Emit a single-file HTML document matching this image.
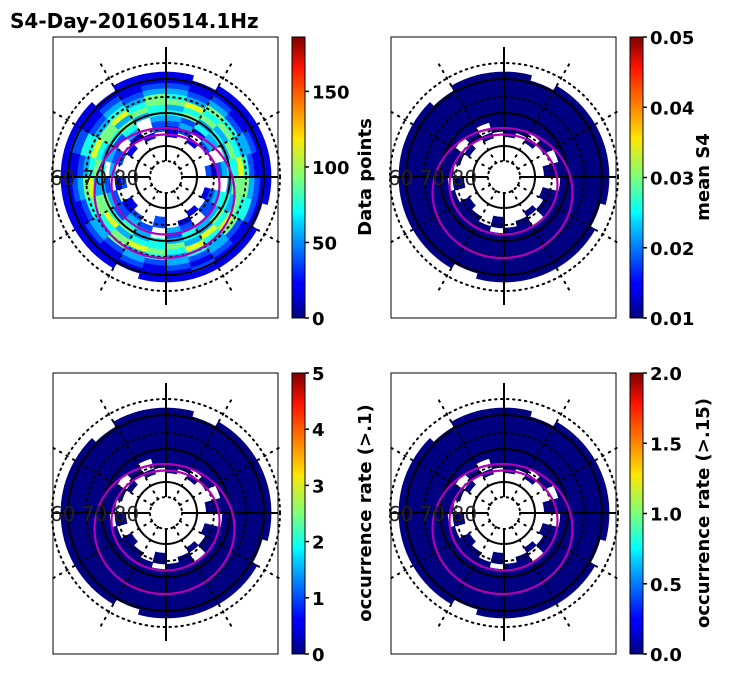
<!DOCTYPE html>
<html><head><meta charset="utf-8"><style>
html,body{margin:0;padding:0;background:#fff;}
svg{display:block;font-family:"DejaVu Sans","Liberation Sans",sans-serif;}
</style></head><body>
<svg id="fig" width="731" height="674" viewBox="0 0 731 674" xmlns="http://www.w3.org/2000/svg">
<defs>
<linearGradient id="jet" x1="0" y1="1" x2="0" y2="0">
<stop offset="0" stop-color="#00007f"/><stop offset="0.11" stop-color="#0000ff"/><stop offset="0.125" stop-color="#0000ff"/>
<stop offset="0.34" stop-color="#00d4ff"/><stop offset="0.375" stop-color="#0ff"/><stop offset="0.5" stop-color="#7dff7a"/>
<stop offset="0.64" stop-color="#ffe500"/><stop offset="0.66" stop-color="#ffd200"/><stop offset="0.89" stop-color="#ff1300"/><stop offset="1" stop-color="#7f0000"/>
</linearGradient>
</defs>
<text x="10" y="28" font-size="20" font-weight="bold">S4-Day-20160514.1Hz</text>
</svg>
<script>
// ring strings: inner -> outer, 24 sectors clockwise from top; '.' = no data, digit = value level 0-9
const ringsP1 = [
"1.1..2.1.1..2..1.2..1.1.",
"12.2.1.22.1.2.21.1.2.1.2",
"2313.2.32.23.2322.32.3.2",
"3243.3.43342.34232.324.3",
"4534343453434354534345344",
"3453545346354436535453543",
"5645465564645654564656456",
"4354345453434353453434353",
"3232323423232323232423232",
"2121212212121212121212121",
"1111111111211111111211111",
"1.11111.11111.1111111.11"
];
const ringsP2 = [
"0.0..0.0.0..0..0.0..0.0.",
"00.0.0.00.0.0.00.0.0.0.0",
"0000.0.00.00.0000.00.0.0",
"000000000000000000000000",
"000000000000000000000000",
"000000000000000000000000",
"000000000000000000000000",
"000000000000000000000000",
"000000000000000000000000",
"000000000000000000000000",
"000000000000000000000000",
"0.00000.00000.0000000.00"
];
const ringsP3 = ringsP2;
const ringsP4 = ringsP2;
const cbTicks1 = ["0","50","100","150"], cbVals1=[0,50,100,150], cbMax1=186;
const cbTicks2 = ["0.01","0.02","0.03","0.04","0.05"], cbVals2=[0.01,0.02,0.03,0.04,0.05];
const cbTicks3 = ["0","1","2","3","4","5"], cbVals3=[0,1,2,3,4,5];
const cbTicks4 = ["0.0","0.5","1.0","1.5","2.0"], cbVals4=[0,0.5,1,1.5,2];

const NS="http://www.w3.org/2000/svg";
const svg=document.getElementById('fig');
function mk(tag,attrs,parent){const e=document.createElementNS(NS,tag);for(const k in attrs)e.setAttribute(k,attrs[k]);(parent||svg).appendChild(e);return e;}
function jet(t){t=Math.max(0,Math.min(1,t));
 const r=Math.max(0,Math.min(1,1.5-Math.abs(4*t-3))),g=Math.max(0,Math.min(1,1.5-Math.abs(4*t-2))),b=Math.max(0,Math.min(1,1.5-Math.abs(4*t-1)));
 return `rgb(${Math.round(r*255)},${Math.round(g*255)},${Math.round(b*255)})`;}
function pt(cx,cy,r,a){const rad=(a-90)*Math.PI/180;return [cx+r*Math.cos(rad),cy+r*Math.sin(rad)];}
function sector(cx,cy,r0,r1,a0,a1){const p1=pt(cx,cy,r1,a0),p2=pt(cx,cy,r1,a1),p3=pt(cx,cy,r0,a1),p4=pt(cx,cy,r0,a0);
 return `M${p1}A${r1},${r1} 0 0 1 ${p2}L${p3}A${r0},${r0} 0 0 0 ${p4}Z`;}

function panel(name,bx,by,rings,cbx,cbTicks,cbVals,cbMin,cbMax,cbLabel){
 const g=mk('g',{});
 
 
 const cx=bx+113,cy=by+140;
 const r0=40,dr=5.4;
 rings.forEach((s,i)=>{for(let j=0;j<24;j++){const c=s[j];if(!c||c==='.')continue;
   const v=+c/9;
   const p=mk('path',{d:sector(cx,cy,r0+i*dr,r0+(i+1)*dr+0.6,j*15-0.4,(j+1)*15+0.4),fill:jet(v*0.89)},g);
   
   
 }});
 [16,48,80,114].forEach(r=>{const c=mk('circle',{cx,cy,r,fill:'none',stroke:'#000','stroke-width':2,'stroke-dasharray':'1.5 4.5','stroke-linecap':'round'},g);
   });
 for(let a=0;a<360;a+=30){if(a%90===0)continue;const p1=pt(cx,cy,16,a),p2=pt(cx,cy,135,a);
   const l=mk('line',{x1:p1[0],y1:p1[1],x2:p2[0],y2:p2[1],stroke:'#000','stroke-width':2,'stroke-dasharray':'1.5 6','stroke-linecap':'round'},g);
   }
 [31,64,98].forEach(r=>{const c=mk('circle',{cx,cy,r,fill:'none',stroke:'#000','stroke-width':2},g);
   });
 [[cx,by+10,cx,cy-16],[cx,cy+16,cx,by+268],[bx,cy,cx-16,cy],[cx+16,cy,bx+225,cy]].forEach(q=>{
  const l=mk('line',{x1:q[0],y1:q[1],x2:q[2],y2:q[3],stroke:'#000','stroke-width':2},g);
  });
 const m1=mk('ellipse',{cx:cx-1.5,cy:cy+16,rx:70,ry:65,fill:'none',stroke:'#b000b8','stroke-width':2.2},g);
 
 const m2=mk('ellipse',{cx:cx-0.5,cy:cy+7.5,rx:54,ry:50,fill:'none',stroke:'#b000b8','stroke-width':2.2},g);
 
 const lab=mk('text',{x:bx-3,y:cy+8,'font-size':20,fill:'#222','font-family':'DejaVu Sans, sans-serif'},g);lab.textContent='60 70 80';
 
 const fr=mk('rect',{x:bx,y:by,width:225,height:281,fill:'none',stroke:'#000','stroke-width':1},g);
 
 const cb=mk('rect',{x:cbx,y:by,width:13,height:281,fill:'url(#jet)',stroke:'#000','stroke-width':1},g);
 
 cbVals.forEach((v,i)=>{const y=by+281-(v-cbMin)/(cbMax-cbMin)*281;
  mk('line',{x1:cbx+13,y1:y,x2:cbx+17,y2:y,stroke:'#000','stroke-width':1.5},g);
  const t=mk('text',{x:cbx+20,y:y+7,'font-size':18,'font-weight':'bold'},g);t.textContent=cbTicks[i];
  });
 const ly=by+140;const lx=cbx+79;
 const cl=mk('text',{x:lx,y:ly,'font-size':18,'font-weight':'bold','text-anchor':'middle',transform:`rotate(-90 ${lx} ${ly})`},g);
 cl.textContent=cbLabel;
}
panel('panel-data-points',53,37,ringsP1,292,cbTicks1,cbVals1,0,cbMax1,'Data points');
panel('panel-mean-s4',391,37,ringsP2,630,cbTicks2,cbVals2,0.01,0.05,'mean S4');
panel('panel-occurrence-01',53,373,ringsP3,292,cbTicks3,cbVals3,0,5,'occurrence rate (>.1)');
panel('panel-occurrence-015',391,373,ringsP4,630,cbTicks4,cbVals4,0,2,'occurrence rate (>.15)');
</script>
</body></html>
